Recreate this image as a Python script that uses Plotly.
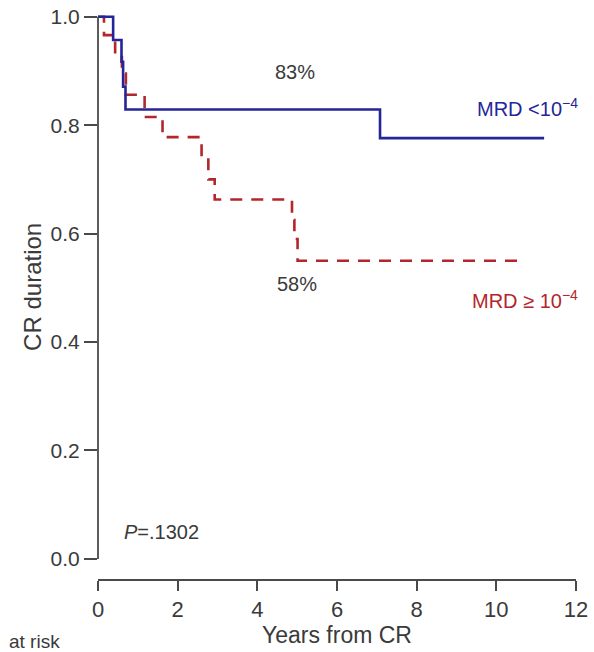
import plotly.graph_objects as go

# Data
blue_times = [0, 0.38, 0.59, 0.63, 0.69, 7.08, 11.2]
blue_surv = [1.0, 0.957, 0.917, 0.871, 0.829, 0.776, 0.776]

red_times = [0, 0.15, 0.43, 0.6, 0.7, 1.17, 1.62, 2.6, 2.77, 2.93, 4.87, 4.93, 5.01, 10.52]
red_surv = [1.0, 0.966, 0.93, 0.895, 0.856, 0.815, 0.778, 0.74, 0.70, 0.663, 0.625, 0.59, 0.55, 0.55]

x_ticks = [0, 2, 4, 6, 8, 10, 12]
y_ticks = [0.0, 0.2, 0.4, 0.6, 0.8, 1.0]
y_tick_labels = ["0.0", "0.2", "0.4", "0.6", "0.8", "1.0"]

Y_RANGE = [-0.037, 1.005]

BLUE = "#25259a"
RED = "#b3262b"
TXT = "#3a3a3a"
AX = "#4a4a4a"
FONT = "Liberation Sans, Arial, sans-serif"

fig = go.Figure()
fig.add_trace(go.Scatter(x=red_times, y=red_surv, mode="lines", line_shape="hv",
                         line=dict(color=RED, width=2.6, dash="12px,9px"), showlegend=False,
                         hoverinfo="skip"))
fig.add_trace(go.Scatter(x=blue_times, y=blue_surv, mode="lines", line_shape="hv",
                         line=dict(color=BLUE, width=2.6), showlegend=False, hoverinfo="skip"))

# R-style y-axis line spanning 0..1 (paper coords derived from the axis range, so it is not clipped)
span = Y_RANGE[1] - Y_RANGE[0]
fig.add_shape(type="line", xref="paper", yref="paper", x0=0, x1=0,
              y0=(0 - Y_RANGE[0]) / span, y1=(1 - Y_RANGE[0]) / span,
              line=dict(color=AX, width=1.8), layer="above")

ann = [
    dict(x=4.95, y=0.898, text="83%", font=dict(color=TXT, size=20)),
    dict(x=5.0, y=0.507, text="58%", font=dict(color=TXT, size=20)),
    dict(x=12, y=0.832, text="MRD <10<sup>−4</sup>", xanchor="right", xshift=4,
         font=dict(color=BLUE, size=20)),
    dict(x=12, y=0.478, text="MRD ≥ 10<sup>−4</sup>", xanchor="right", xshift=4,
         font=dict(color=RED, size=20)),
    dict(x=0.6, y=0.05, text="<i>P</i>=.1302", xanchor="left", font=dict(color=TXT, size=20)),
]
for a in ann:
    a.setdefault("xanchor", "center")
    a.update(xref="x", yref="y", showarrow=False, yanchor="middle")
    a["font"]["family"] = FONT
    fig.add_annotation(**a)

# y-axis title
fig.add_annotation(xref="paper", yref="paper", x=-0.136, y=0.517, xanchor="center", yanchor="middle",
                   text="CR duration", textangle=-90, showarrow=False,
                   font=dict(color=TXT, size=24, family=FONT))

fig.add_annotation(xref="paper", yref="paper", x=-0.19, y=-0.11, xanchor="left", yanchor="middle",
                   text="at risk", showarrow=False, font=dict(color=TXT, size=19, family=FONT))

fig.update_layout(
    width=594, height=652,
    margin=dict(l=98, r=18, t=14, b=73, autoexpand=False),
    paper_bgcolor="white", plot_bgcolor="white",
    font=dict(family=FONT, color=TXT),
    hovermode=False,
    xaxis=dict(range=[0, 12], tickvals=x_ticks, ticks="outside", ticklen=10, tickwidth=1.6,
               tickcolor=AX, showline=True, linecolor=AX, linewidth=1.8, showgrid=False,
               zeroline=False, tickfont=dict(size=22, color=TXT), automargin=False,
               title=dict(text="Years from CR", font=dict(size=23, color=TXT), standoff=0)),
    yaxis=dict(range=Y_RANGE, tickvals=y_ticks, ticktext=y_tick_labels, ticks="outside",
               ticklen=13, tickwidth=1.6, tickcolor=AX, showline=False, showgrid=False,
               zeroline=False, tickfont=dict(size=21, color=TXT), automargin=False),
)

fig.write_html("out.html", config={"displayModeBar": False},
               post_script="document.body.style.margin='0';document.body.style.padding='0';")
